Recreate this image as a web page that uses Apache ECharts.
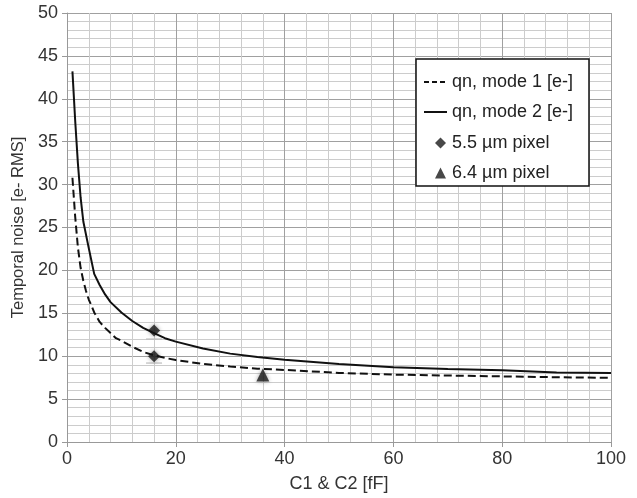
<!DOCTYPE html>
<html><head><meta charset="utf-8">
<script src="https://cdn.jsdelivr.net/npm/echarts@6/dist/echarts.min.js"></script>
<style>html,body{margin:0;padding:0;background:#fff}#c{width:637px;height:498px}</style>
</head><body><div id="c"></div>
<script>
var xMode2 = [1,1.5,2,2.5,3,4,5,6,7,8,10,12,14,16,18,20,25,30,35,40,50,60,70,80,90,100];
var yMode2 = [43.2,37.5,32.5,28.5,25.7,22.6,19.6,18.3,17.2,16.3,15.1,14.1,13.3,12.7,12.1,11.7,10.9,10.3,9.9,9.6,9.1,8.7,8.5,8.35,8.1,8.05];
var xMode1 = [1,1.5,2,2.5,3,3.5,4,4.5,5,6,7,8,9,10,12,14,16,18,20,25,30,35,40,50,60,70,80,90,100];
var yMode1 = [30.8,26.3,22.7,20.3,18.8,17.6,16.6,15.9,15.1,14.0,13.3,12.7,12.1,11.8,11.1,10.5,10.1,9.8,9.55,9.1,8.8,8.55,8.4,8.05,7.85,7.75,7.65,7.55,7.47];
var px55 = [[16,13.0],[16,10.0]];
var px64 = [[36,7.8]];
var errMarks = [[16,12.0],[16,9.2]];
var names = ['qn, mode 1 [e-]','qn, mode 2 [e-]','5.5 \u00b5m pixel','6.4 \u00b5m pixel'];
var xTitle = 'C1 & C2 [fF]';
var yTitle = 'Temporal noise [e- RMS]';

function zip(a,b){return a.map(function(v,i){return [v,b[i]];});}
var font = 'Liberation Sans, Arial, sans-serif';
var chart = echarts.init(document.getElementById('c'), null, {renderer:'canvas'});
chart.setOption({
  backgroundColor:'#fff',
  animation:false,
  textStyle:{fontFamily:font},
  grid:{left:67,right:26,top:13,bottom:56,containLabel:false},
  xAxis:{type:'value',min:0,max:100,interval:20,
    name:xTitle,nameLocation:'middle',nameGap:33,
    nameTextStyle:{fontSize:18,color:'#333',fontFamily:font},
    axisLine:{show:true,lineStyle:{color:'#999',width:1}},
    axisTick:{show:true,length:5,lineStyle:{color:'#999'}},
    axisLabel:{fontSize:18,color:'#333',margin:8,fontFamily:font},
    splitLine:{show:true,lineStyle:{color:'#a0a0a0',width:1}},
    minorTick:{show:false,splitNumber:5},
    minorSplitLine:{show:true,lineStyle:{color:'#cccccc',width:1}}},
  yAxis:{type:'value',min:0,max:50,interval:5,
    name:yTitle,nameLocation:'middle',nameGap:37,
    nameTextStyle:{fontSize:16.5,color:'#333',fontFamily:font},
    axisLine:{show:true,lineStyle:{color:'#999',width:1}},
    axisTick:{show:true,length:5,lineStyle:{color:'#999'}},
    axisLabel:{fontSize:18,color:'#333',margin:9,fontFamily:font},
    splitLine:{show:true,lineStyle:{color:'#a0a0a0',width:1}},
    minorTick:{show:false,splitNumber:5},
    minorSplitLine:{show:true,lineStyle:{color:'#cccccc',width:1}}},
  graphic:[{type:'rect',shape:{x:416,y:59,width:173,height:127},
    style:{fill:'#fff',stroke:'#111',lineWidth:1.5},z:5}],
  legend:[
    {data:[{name:names[0],lineStyle:{type:[5,3]}},{name:names[1]}],orient:'vertical',left:418,top:68,itemWidth:23,itemHeight:14,itemGap:12,
     itemStyle:{opacity:0},
     textStyle:{fontSize:18,color:'#222',fontFamily:font},z:10},
    {data:[names[2],names[3]],orient:'vertical',left:430,top:129,itemWidth:11,itemHeight:11,itemGap:12,
     textStyle:{fontSize:18,color:'#222',fontFamily:font,padding:[0,0,0,1]},z:10}
  ],
  series:[
    {name:names[0],type:'line',data:zip(xMode1,yMode1),symbol:'none',
     lineStyle:{color:'#111',width:2,type:[8,4]},itemStyle:{color:'#111'}},
    {name:names[1],type:'line',data:zip(xMode2,yMode2),symbol:'none',
     lineStyle:{color:'#111',width:2},itemStyle:{color:'#111'}},
    {name:'err',type:'scatter',data:errMarks,symbol:'rect',symbolSize:[16,1.5],
     itemStyle:{color:'#bbb'},silent:true,z:1},
    {name:names[2],type:'scatter',data:px55,symbol:'diamond',symbolSize:12,
     itemStyle:{color:'#1a1a1a',shadowBlur:4,shadowColor:'rgba(0,0,0,0.45)'}},
    {name:names[3],type:'scatter',data:px64,symbol:'triangle',symbolSize:13,
     itemStyle:{color:'#1a1a1a',shadowBlur:4,shadowColor:'rgba(0,0,0,0.45)'}}
  ]
});
</script></body></html>
